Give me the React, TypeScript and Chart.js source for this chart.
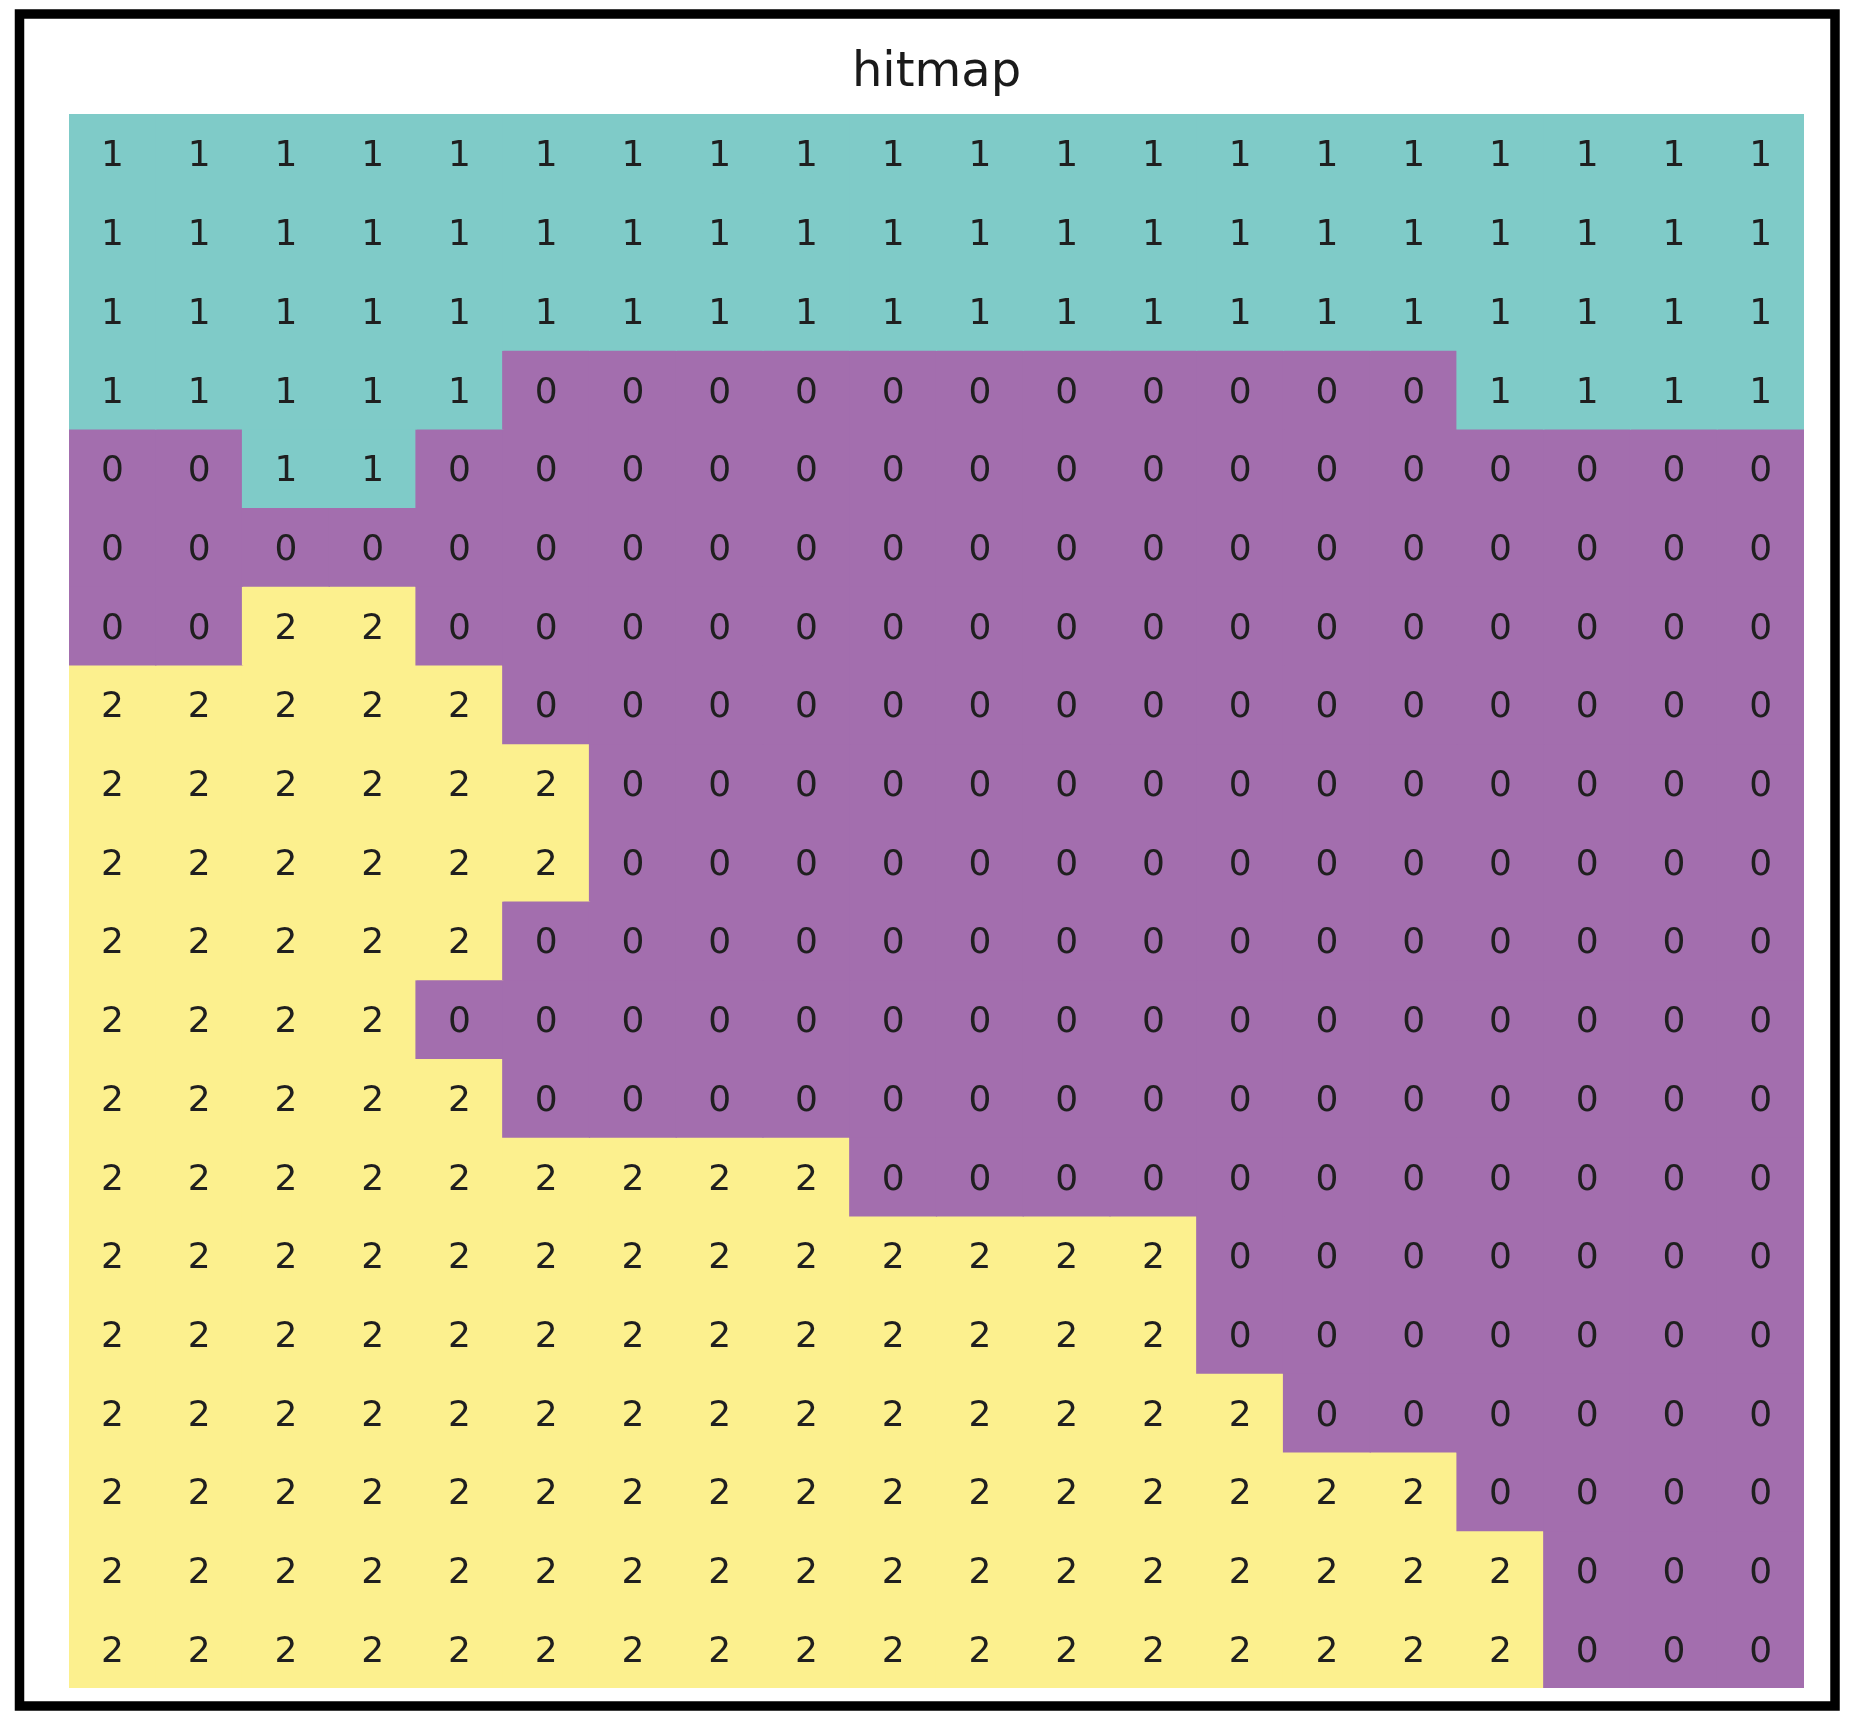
import { useEffect, useRef } from "react";
import { Chart, registerables } from "chart.js";

Chart.register(...registerables);

const TITLE = "hitmap";
const COLUMNS = ["0","1","2","3","4","5","6","7","8","9","10","11","12","13","14","15","16","17","18","19"];

const ROW_0 = [1,1,1,1,1,1,1,1,1,1,1,1,1,1,1,1,1,1,1,1];
const ROW_1 = [1,1,1,1,1,1,1,1,1,1,1,1,1,1,1,1,1,1,1,1];
const ROW_2 = [1,1,1,1,1,1,1,1,1,1,1,1,1,1,1,1,1,1,1,1];
const ROW_3 = [1,1,1,1,1,0,0,0,0,0,0,0,0,0,0,0,1,1,1,1];
const ROW_4 = [0,0,1,1,0,0,0,0,0,0,0,0,0,0,0,0,0,0,0,0];
const ROW_5 = [0,0,0,0,0,0,0,0,0,0,0,0,0,0,0,0,0,0,0,0];
const ROW_6 = [0,0,2,2,0,0,0,0,0,0,0,0,0,0,0,0,0,0,0,0];
const ROW_7 = [2,2,2,2,2,0,0,0,0,0,0,0,0,0,0,0,0,0,0,0];
const ROW_8 = [2,2,2,2,2,2,0,0,0,0,0,0,0,0,0,0,0,0,0,0];
const ROW_9 = [2,2,2,2,2,2,0,0,0,0,0,0,0,0,0,0,0,0,0,0];
const ROW_10 = [2,2,2,2,2,0,0,0,0,0,0,0,0,0,0,0,0,0,0,0];
const ROW_11 = [2,2,2,2,0,0,0,0,0,0,0,0,0,0,0,0,0,0,0,0];
const ROW_12 = [2,2,2,2,2,0,0,0,0,0,0,0,0,0,0,0,0,0,0,0];
const ROW_13 = [2,2,2,2,2,2,2,2,2,0,0,0,0,0,0,0,0,0,0,0];
const ROW_14 = [2,2,2,2,2,2,2,2,2,2,2,2,2,0,0,0,0,0,0,0];
const ROW_15 = [2,2,2,2,2,2,2,2,2,2,2,2,2,0,0,0,0,0,0,0];
const ROW_16 = [2,2,2,2,2,2,2,2,2,2,2,2,2,2,0,0,0,0,0,0];
const ROW_17 = [2,2,2,2,2,2,2,2,2,2,2,2,2,2,2,2,0,0,0,0];
const ROW_18 = [2,2,2,2,2,2,2,2,2,2,2,2,2,2,2,2,2,0,0,0];
const ROW_19 = [2,2,2,2,2,2,2,2,2,2,2,2,2,2,2,2,2,0,0,0];

const GRID = [ROW_0, ROW_1, ROW_2, ROW_3, ROW_4, ROW_5, ROW_6, ROW_7, ROW_8, ROW_9,
  ROW_10, ROW_11, ROW_12, ROW_13, ROW_14, ROW_15, ROW_16, ROW_17, ROW_18, ROW_19];

const CLASS_COLORS = ["#a36eae", "#7fcbc8", "#fcf08e"];

const W = 1852;
const H = 1728;

export default function App() {
  const ref = useRef<HTMLCanvasElement | null>(null);

  useEffect(() => {
    if (!ref.current) return;

    const frame = {
      id: "frame",
      beforeDraw(chart: any) {
        const c = chart.ctx;
        c.save();
        c.fillStyle = "#ffffff";
        c.fillRect(0, 0, chart.width, chart.height);
        c.restore();
      },
      afterDraw(chart: any) {
        const c = chart.ctx;
        c.save();
        c.strokeStyle = "#000000";
        c.lineWidth = 9.5;
        c.strokeRect(19.5, 14, 1815.5, 1692);
        c.restore();
      },
    };

    const cellLabels = {
      id: "cellLabels",
      afterDatasetsDraw(chart: any) {
        const c = chart.ctx;
        const size = 36;
        c.save();
        c.font = `${size}px 'DejaVu Sans'`;
        c.fillStyle = "#1f1f1f";
        c.textAlign = "center";
        c.textBaseline = "alphabetic";
        chart.data.datasets.forEach((_ds: any, r: number) => {
          const meta = chart.getDatasetMeta(r);
          meta.data.forEach((el: any, ci: number) => {
            const cy = (el.y + el.base) / 2;
            c.fillText(String(GRID[r][ci]), el.x, cy + size * 0.3645);
          });
        });
        c.restore();
      },
    };

    const chart = new Chart(ref.current, {
      type: "bar",
      data: {
        labels: COLUMNS,
        datasets: GRID.map((row, r) => ({
          label: `row ${r}`,
          data: row.map(() => [r, r + 1]) as any,
          backgroundColor: row.map((v) => CLASS_COLORS[v]),
          borderWidth: 0,
          inflateAmount: 0.6,
          barPercentage: 1,
          categoryPercentage: 1,
          grouped: false,
        })),
      },
      options: {
        animation: false,
        responsive: false,
        devicePixelRatio: 1,
        layout: { padding: { left: 69, right: 48, top: 45, bottom: 40 } },
        plugins: {
          legend: { display: false },
          tooltip: { enabled: false },
          title: {
            display: true,
            text: TITLE,
            color: "#1a1a1a",
            font: { family: "'DejaVu Sans'", size: 48, weight: "normal", lineHeight: 1.2 },
            padding: { top: 0, bottom: 11.4 },
          },
        },
        scales: {
          x: { type: "category", display: false, offset: true, grid: { display: false } },
          y: { type: "linear", display: false, min: 0, max: 20, reverse: true, grid: { display: false } },
        },
      } as any,
      plugins: [frame, cellLabels],
    });

    return () => chart.destroy();
  }, []);

  return (
    <div style={{ position: "absolute", left: 0, top: 0, width: W, height: H }}>
      <canvas ref={ref} width={W} height={H} style={{ width: W, height: H, display: "block" }} />
    </div>
  );
}
